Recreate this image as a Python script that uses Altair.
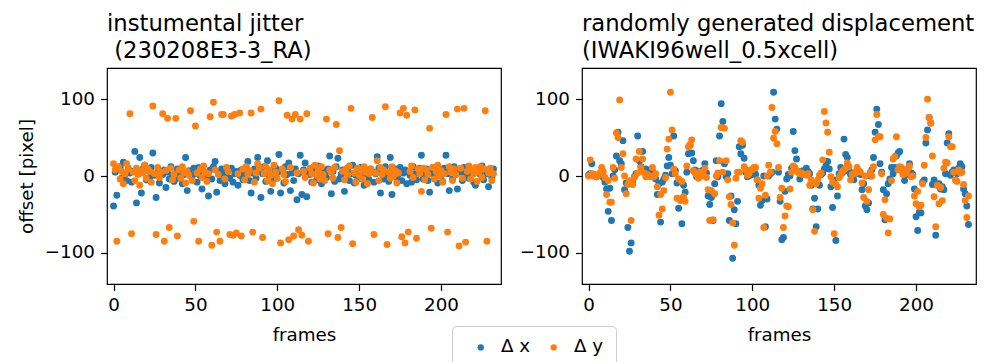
import altair as alt
import pandas as pd

FONT = "DejaVu Sans"

frames = list(range(233))

# instrumental jitter (230208E3-3_RA)
jit_dx = [
    -39, 5, -25, 8, 12, -3, 18, 2, -6, 10,
    4, -8, 6, 32, -35, 3, 24, -22, 9, 14,
    -5, 7, -2, 11, 30, 1, -28, 6, -9, 4,
    2, 8, -15, 5, -4, 12, 0, -7, 3, 9,
    -3, 6, -10, 2, 24, -19, 7, 1, -5, 10,
    3, -8, 11, 0, -17, 6, 4, -2, -26, 8,
    -4, 12, 19, -21, 5, -6, 9, 2, -10, 4,
    7, -3, 10, -8, 3, 6, -12, 1, 8, -5,
    2, 11, 19, -6, -22, 4, 9, -3, 24, 6,
    -28, 3, 12, -7, 20, 1, -20, 8, -4, 10,
    5, 28, -22, 6, -9, 12, 2, 17, -19, 4,
    -6, 9, -31, 3, 27, -24, 8, 17, -27, 5,
    2, -8, 11, 4, -5, 13, 0, -10, 7, 3,
    -2, 9, 26, -23, 6, -7, 12, 23, -4, 2,
    8, -20, 5, 10, -6, 3, 14, -9, 1, 7,
    -3, 11, 4, -12, 8, 2, -5, 9, 6, -8,
    3, 25, 10, -22, 5, -4, 12, 0, -7, 24,
    -24, 6, 9, -3, 2, 11, -6, 4, 8, -10,
    5, 1, -8, 12, 3, -5, 7, 10, 27, -4,
    2, 9, -6, -21, 4, 11, -3, 6, -9, 8,
    1, -7, 10, 27, 3, -19, 6, -4, 12, 2,
    -17, 8, 5, -6, 11, 0, 9, -3, 7, 4,
    -8, -12, 6, 10, 2, 13, -5, 8, 3, -14,
    5, -2, 9,
]
jit_dy = [
    16, 8, -85, 12, -4, 6, -10, 3, 16, 9,
    81, -75, 5, -6, 10, 2, -12, 7, 4, 14,
    -3, 9, 6, -8, 91, 3, -76, 11, -2, 5,
    81, -85, 7, 75, -67, 10, -5, 2, 75, -78,
    8, -3, 12, 4, -9, 6, 1, 85, -6, -59,
    65, 4, -85, 9, -2, 13, 5, -7, 3, 77,
    -90, 96, 8, -73, 2, -85, 80, 80, -4, 11,
    6, -76, 78, -77, 80, -74, 3, 82, -78, 9,
    -5, 12, 2, 7, 82, -73, -8, 4, 16, 10,
    87, -80, 3, 12, -6, 8, 1, -10, 14, 5,
    -3, 98, -87, 9, 2, -7, 79, -83, 11, 74,
    -78, 80, 4, -70, 74, -77, 6, -2, 81, -85,
    10, 3, -9, 14, 1, 7, -4, 12, 2, -6,
    74, -75, 8, 5, -3, 11, 67, -80, 33, -67,
    6, -5, 9, 2, 13, 88, -88, 4, -8, 10,
    1, 7, -4, 12, 5, -10, 3, 9, 76, -76,
    4, 20, -6, 11, 2, 8, 90, -89, 5, -3,
    12, 0, 7, -9, 4, 82, -79, 88, -87, 79,
    -73, 6, 13, -2, 86, -81, 9, 3, -20, 10,
    -5, 8, 2, 62, -68, 11, -4, 6, 14, 0,
    7, -8, 3, 80, -73, 12, 5, -6, 9, 2,
    87, -91, 10, -3, 88, -86, 6, 13, -4, 8,
    3, 11, -7, 5, 12, -2, 9, 85, -85, 4,
    10, -6, 3,
]

# randomly generated displacement (IWAKI96well_0.5xcell)
rnd_dx = [
    1, 3, 16, 2, 0, -1, 1, 2, 4, -2,
    -8, -17, -46, -16, -58, 0, 8, 26, 57, 20,
    16, 46, -18, -9, -67, -98, -87, -9, -1, 3,
    52, 20, 12, 32, 6, 9, 2, 0, 4, 7,
    2, -4, -24, -10, -60, -8, -4, 1, 13, 24,
    14, 3, 52, 7, -9, -42, -30, -62, -12, -21,
    5, 29, 40, 30, 20, 8, -1, 2, 6, 3,
    8, 16, 4, -26, -37, -28, -58, -10, 20, -1,
    52, 94, 71, 16, -1, 3, -58, -26, -107, -44,
    -62, -33, 38, 29, 40, 23, 5, -1, 3, 1,
    3, 6, 2, -5, -12, -38, -32, 0, -66, -30,
    0, 3, 5, 109, 74, 61, 5, -33, -83, -80,
    -20, -4, 2, 0, 10, 58, 33, 22, 6, -4,
    2, 7, 4, 10, 6, 3, -12, -43, -29, -66,
    -43, -12, 2, 4, 9, 13, 19, 9, -14, -41,
    -5, -84, -26, 3, 11, 4, 48, 28, 24, 6,
    2, 4, -5, 3, 8, 4, 2, -18, -10, -39,
    -44, -35, 0, 8, 24, 57, 87, 67, 16, 5,
    -18, -57, -23, -10, -4, 11, 3, 11, 26, 30,
    32, 10, 5, -6, 2, 8, 16, 4, 2, -17,
    -53, -71, -47, -48, -8, -5, 43, 60, 76, 69,
    -11, -5, -77, -12, -10, -17, -14, -18, 3, 43,
    55, 1, 5, 8, 6, 3, 10, 16, 12, -17,
    -23, -39, -63,
]
rnd_dy = [
    0, 21, 3, 0, 2, -1, 1, 4, 11, 6,
    -2, -24, -6, -34, -34, 11, -3, 56, 50, 99,
    11, 29, 0, -23, -11, -6, -58, -11, -2, 22,
    4, 32, 11, 22, 4, -1, 2, 0, -1, 11,
    -1, 3, -14, -51, -24, -43, -19, -2, 35, 48,
    109, 60, 9, 3, -29, -4, -32, -7, -27, -33,
    13, 38, 41, 47, 7, 4, 2, -3, 5, 0,
    3, 10, -2, -18, -58, -19, -57, -23, 0, 4,
    20, 63, 5, 62, 20, -5, -27, -37, -61, -90,
    -3, 5, 5, 46, 44, 12, 8, 1, 3, 8,
    8, 11, 11, -5, -29, -16, -10, -67, -25, 0,
    14, 5, 89, 49, 58, 42, 11, -28, -16, -67,
    -52, -39, -40, -17, 5, 13, 11, 7, 5, 3,
    4, 2, 2, 1, 3, -12, -5, -44, -72, -10,
    -5, 1, 4, 21, 84, 69, 57, 31, -1, -8,
    -75, -11, -14, -2, 2, 6, 8, 10, 17, 12,
    -5, 2, 3, 4, 11, 7, 5, -9, -28, 0,
    -33, -18, 5, 0, 12, 47, 80, 51, 51, 3,
    -50, -31, -55, -74, -56, -6, 22, 25, 51, 8,
    12, 11, 2, 3, 5, 9, 13, -1, 0, -26,
    -36, -20, -40, -38, -10, 14, 50, 100, 76, 69,
    26, -27, -66, -12, -36, -15, -32, 10, 18, 17,
    51, 38, 38, 5, -5, -7, 8, 4, 5, -11,
    -32, -54, -26,
]

series_names = ["Δ x", "Δ y"]
series_colors = ["#1f77b4", "#ff7f0e"]
x_ticks = [0, 50, 100, 150, 200]
y_ticks = [-100, 0, 100]


def to_long(dx, dy):
    rows = []
    for name, vals in zip(series_names, [dx, dy]):
        for f, v in zip(frames, vals):
            rows.append({"frame": f, "value": v, "series": name})
    return pd.DataFrame(rows)


def panel(df, title_lines, ytitle):
    yaxis = alt.Axis(values=y_ticks, title=ytitle) if ytitle else alt.Axis(values=y_ticks, title=None)
    return (
        alt.Chart(df)
        .mark_circle(size=48, opacity=1)
        .encode(
            x=alt.X("frame:Q",
                    scale=alt.Scale(domain=[-4, 236.6], nice=False, zero=False),
                    axis=alt.Axis(values=x_ticks, title="frames", titlePadding=13)),
            y=alt.Y("value:Q",
                    scale=alt.Scale(domain=[-140.5, 140.5], nice=False),
                    axis=yaxis),
            color=alt.Color("series:N",
                            scale=alt.Scale(domain=series_names, range=series_colors),
                            legend=alt.Legend(orient="none", legendX=345, legendY=258,
                                              direction="horizontal", title=None)),
        )
        .properties(
            width=394, height=216,
            title=alt.TitleParams(text=title_lines, anchor="start", frame="group",
                                  fontSize=22.7, font=FONT, fontWeight="normal",
                                  color="black", lineHeight=27, offset=5),
        )
    )


left = panel(to_long(jit_dx, jit_dy), ["instumental jitter", "\u200b\u00a0(230208E3-3_RA)"], "offset [pixel]")
right = panel(to_long(rnd_dx, rnd_dy), ["randomly generated displacement", "(IWAKI96well_0.5xcell)"], None)

chart = (
    alt.hconcat(left, right, spacing=16)
    .properties(padding={"left": 16, "top": 12, "right": 0, "bottom": 0})
    .configure(font=FONT)
    .configure_view(stroke="black", strokeWidth=1.2)
    .configure_axis(labelFont=FONT, titleFont=FONT, labelFontSize=18.3, titleFontSize=18.3,
                    titleFontWeight="normal", labelColor="black", titleColor="black",
                    tickColor="black", tickSize=6.5, tickWidth=1.2, labelPadding=6,
                    grid=False, domain=False, titlePadding=8)
    .configure_legend(labelFont=FONT, labelFontSize=18.3, labelColor="black",
                      symbolType="circle", symbolSize=40, symbolStrokeWidth=0,
                      strokeColor="#cccccc", strokeWidth=1, cornerRadius=4,
                      fillColor="white", padding=12, columnPadding=6, labelOffset=11,
                      symbolOffset=7.6)
)

chart.save("out.html", embed_options={"renderer": "svg", "actions": False})
